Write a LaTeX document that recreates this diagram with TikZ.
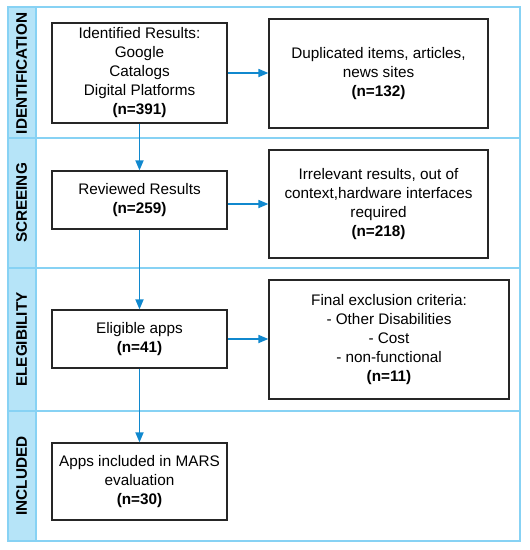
\documentclass[tikz,border=0pt]{standalone}
\usepackage{fontspec}
\setmainfont{Liberation Sans}
\usetikzlibrary{arrows.meta}
\definecolor{bandfill}{RGB}{182,228,248}
\definecolor{laneline}{RGB}{135,210,244}
\definecolor{arrowblue}{RGB}{16,136,206}
\begin{document}
\begin{tikzpicture}[x=1pt,y=-1pt,
  box/.style={draw=black!85,line width=1.2pt,fill=white,align=center,inner sep=2pt,
    font=\fontsize{15.3}{19}\selectfont},
  lanelabel/.style={rotate=90,font=\fontsize{15.3}{18}\selectfont\bfseries},
  flow/.style={draw=arrowblue,line width=1.7pt,-{Triangle[length=10pt,width=8pt]}}]
\useasboundingbox (0,0) rectangle (530,550);
% swimlanes
\fill[bandfill] (8,7) rectangle (36,541);
\draw[laneline,line width=1.2pt] (36,7) -- (36,541);
\draw[laneline,line width=1.2pt] (8,138) -- (520,138);
\draw[laneline,line width=1.2pt] (8,268) -- (520,268);
\draw[laneline,line width=1.2pt] (8,411) -- (520,411);
\draw[laneline,line width=1.6pt] (8,7) rectangle (520,541);
\node[lanelabel] (l1) at (21.5,73.5) {IDENTIFICATION};
\node[lanelabel] (l2) at (21.5,203) {SCREEING};
\node[lanelabel] (l3) at (21.5,339.5) {ELEGIBILITY};
\node[lanelabel] (l4) at (21.5,476) {INCLUDED};
% main boxes
\node[box,minimum width=175pt,minimum height=100pt] (b1) at (139.5,73)
  {Identified Results:\\Google\\Catalogs\\Digital Platforms\\\textbf{(n=391)}};
\node[box,minimum width=175pt,minimum height=58pt] (b2) at (139.5,200)
  {Reviewed Results\\\textbf{(n=259)}};
\node[box,minimum width=175pt,minimum height=58pt] (b3) at (139.5,339)
  {Eligible apps\\\textbf{(n=41)}};
\node[box,minimum width=175pt,minimum height=77pt] (b4) at (139.5,481.5)
  {Apps included in MARS\\evaluation\\\textbf{(n=30)}};
% exclusion boxes
\node[box,minimum width=219pt,minimum height=109pt] (r1) at (378.5,73.5)
  {Duplicated items, articles,\\news sites\\\textbf{(n=132)}};
\node[box,minimum width=219pt,minimum height=108pt] (r2) at (378.5,204)
  {Irrelevant results, out of\\context,hardware interfaces\\required\\\textbf{(n=218)}};
\node[box,minimum width=240pt,minimum height=119pt] (r3) at (389,339.5)
  {Final exclusion criteria:\\- Other Disabilities\\- Cost\\- non-functional\\\textbf{(n=11)}};
% connectors
\draw[flow] (b1) -- (b2);
\draw[flow] (b2) -- (b3);
\draw[flow] (b3) -- (b4);
\draw[flow] (b1.east) -- (b1.east -| r1.west);
\draw[flow] (b2.east |- r2.west) -- (r2.west);
\draw[flow] (b3.east) -- (b3.east -| r3.west);
\end{tikzpicture}
\end{document}
